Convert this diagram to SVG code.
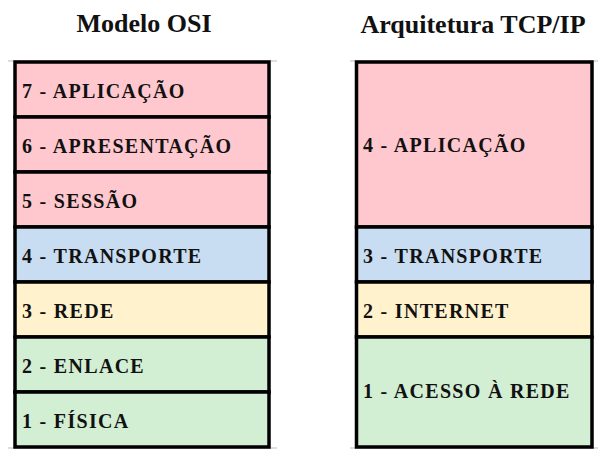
<svg xmlns="http://www.w3.org/2000/svg" width="604" height="456" viewBox="0 0 604 456">
<style>
.t{font-weight:bold;fill:#111;}
.title{font-size:26px;text-anchor:middle;}
.lbl{font-size:20px;letter-spacing:1.3px;}
.box{stroke:#000;stroke-width:3.5;}
.red{fill:#FFC7CE;}
.blue{fill:#C9DDF2;}
.yel{fill:#FFF2CC;}
.grn{fill:#D2EED3;}
.grid{stroke:#DEDEDE;stroke-width:2;}
</style>
<rect width="604" height="456" fill="#fff"/>
<g id="gridlines">
<line class="grid" x1="8" y1="61" x2="277" y2="61"/>
<line class="grid" x1="8" y1="448" x2="277" y2="448"/>
<line class="grid" x1="350" y1="61" x2="598" y2="61"/>
<line class="grid" x1="350" y1="448" x2="598" y2="448"/>
</g>
<g font-family="Liberation Serif, DejaVu Serif, serif">
<text id="title-osi" class="t title" x="144" y="32">Modelo OSI</text>
<text id="title-tcp" class="t title" x="473" y="33">Arquitetura TCP/IP</text>
<g id="osi-7"><rect class="box red" x="15" y="62" width="254" height="55"/><text class="t lbl" x="22" y="98">7 - APLICAÇÃO</text></g>
<g id="osi-6"><rect class="box red" x="15" y="117" width="254" height="55"/><text class="t lbl" x="22" y="153">6 - APRESENTAÇÃO</text></g>
<g id="osi-5"><rect class="box red" x="15" y="172" width="254" height="55"/><text class="t lbl" x="22" y="208">5 - SESSÃO</text></g>
<g id="osi-4"><rect class="box blue" x="15" y="227" width="254" height="55"/><text class="t lbl" x="22" y="263">4 - TRANSPORTE</text></g>
<g id="osi-3"><rect class="box yel" x="15" y="282" width="254" height="55"/><text class="t lbl" x="22" y="318">3 - REDE</text></g>
<g id="osi-2"><rect class="box grn" x="15" y="337" width="254" height="55"/><text class="t lbl" x="22" y="373">2 - ENLACE</text></g>
<g id="osi-1"><rect class="box grn" x="15" y="392" width="254" height="55"/><text class="t lbl" x="22" y="428">1 - FÍSICA</text></g>
<g id="tcp-4"><rect class="box red" x="356.5" y="62" width="235.5" height="165"/><text class="t lbl" x="363" y="152">4 - APLICAÇÃO</text></g>
<g id="tcp-3"><rect class="box blue" x="356.5" y="227" width="235.5" height="55"/><text class="t lbl" x="363" y="263">3 - TRANSPORTE</text></g>
<g id="tcp-2"><rect class="box yel" x="356.5" y="282" width="235.5" height="55"/><text class="t lbl" x="363" y="318">2 - INTERNET</text></g>
<g id="tcp-1"><rect class="box grn" x="356.5" y="337" width="235.5" height="110"/><text class="t lbl" x="363" y="398">1 - ACESSO À REDE</text></g>
</g>
<g id="connectors"></g>
</svg>
